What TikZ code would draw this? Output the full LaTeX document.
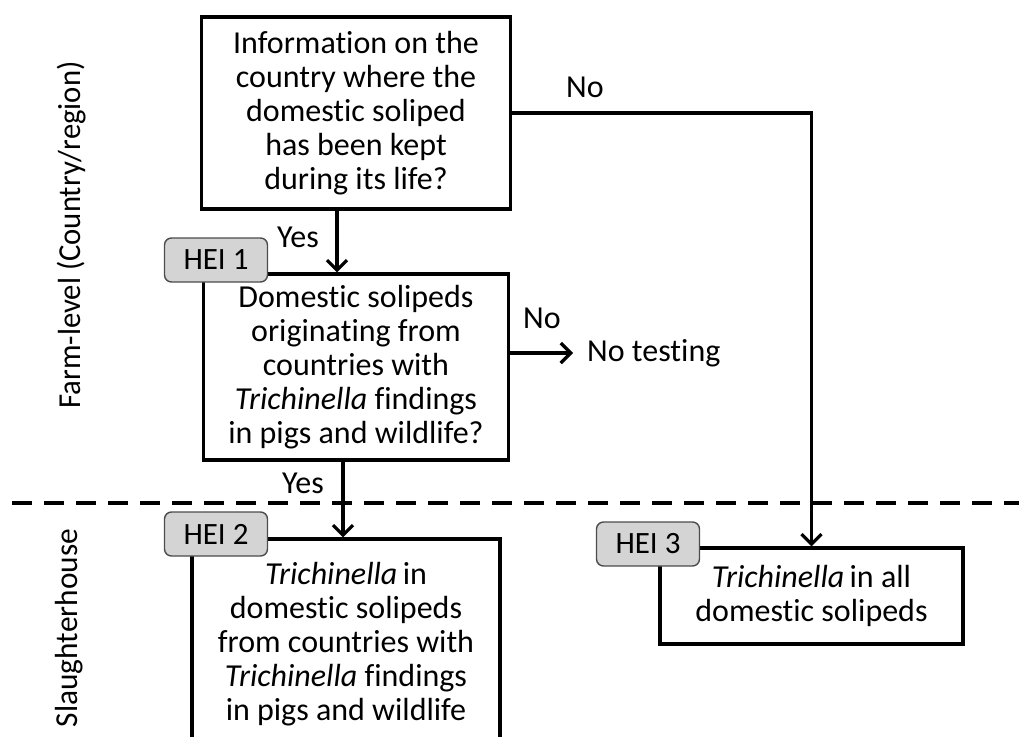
\documentclass[tikz,border=0pt]{standalone}
\usepackage{fontspec}
\setmainfont{Carlito}[Ligatures=NoCommon]
\usetikzlibrary{arrows.meta}
\begin{document}
\begin{tikzpicture}[x=1pt,y=-1pt]
    \tikzset{
      stepbox/.style={draw=black, line width=3.2pt, align=center, inner sep=0pt,
        font=\fontsize{32}{34}\selectfont},
      heitag/.style={draw=black!70, fill=black!17, rounded corners=7pt, line width=1.4pt,
        minimum width=103pt, minimum height=44pt, inner sep=0pt,
        font=\fontsize{31}{34}\selectfont},
      flow/.style={line width=3.2pt, -{Straight Barb[length=10pt,width=20pt]}},
      lbl/.style={inner sep=0pt, font=\fontsize{32}{34}\selectfont},
      side/.style={inner sep=0pt, rotate=90, font=\fontsize{32}{34}\selectfont}
    }
    \useasboundingbox (0,0) rectangle (1019,736);
    % side labels and level divider
    \node [side] (farm) at (72,235) {\scalebox{0.96}[1]{Farm-level (Country/region)}};
    \node [side] (slaughter) at (69,628) {\scalebox{0.98}[1]{Slaughterhouse}};
    \coordinate (divl) at (12,503);
    \coordinate (divr) at (1019,503);
    \draw [black, line width=3.6pt, dash pattern=on 20pt off 12pt] (divl) -- (divr);
    % boxes
    \node [stepbox, minimum width=309pt, minimum height=192pt] (info) at (356,113)
      {Information on the\\country where the\\domestic soliped\\has been kept\\during its life?};
    \node [stepbox, minimum width=305pt, minimum height=186pt] (origin) at (356,367)
      {Domestic solipeds\\originating from\\countries with\\\textit{Trichinella} findings\\in pigs and wildlife?};
    \node [stepbox, minimum width=308pt, minimum height=210pt] (trich) at (346,644)
      {\textit{Trichinella}\thinspace in\\domestic solipeds\\from countries with\\\textit{Trichinella} findings\\in pigs and wildlife};
    \node [stepbox, minimum width=303pt, minimum height=96pt] (allsol) at (811.5,596)
      {\textit{Trichinella}\thinspace in all\\domestic solipeds};
    \node [lbl, anchor=west] (notest) at (587,353) {No testing};
    % HEI tags
    \node [heitag] (hei1) at (216,260) {HEI 1};
    \node [heitag] (hei2) at (216,534) {HEI 2};
    \node [heitag] (hei3) at (648,544) {HEI 3};
    % connectors
    \draw [flow] ([xshift=-19pt]info.south) -- ([xshift=-19pt]info.south |- origin.north);
    \draw [flow] ([xshift=-13pt]origin.south) -- ([xshift=-13pt]origin.south |- trich.north);
    \draw [flow] (info.east) -| (allsol.north);
    \draw [flow] (origin.east |- notest.west) -- ([xshift=-14pt]notest.west);
    % answers
    \node [lbl] (yes1) at (298,237) {Yes};
    \node [lbl] (yes2) at (303,483) {Yes};
    \node [lbl] (no1) at (585,87) {No};
    \node [lbl] (no2) at (542,318) {No};
\end{tikzpicture}
\end{document}
